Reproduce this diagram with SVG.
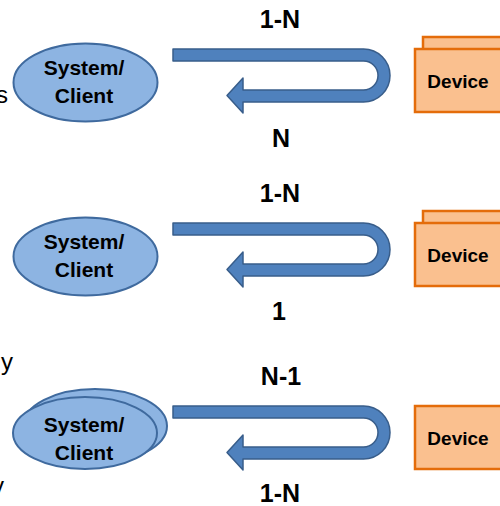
<svg xmlns="http://www.w3.org/2000/svg" width="500" height="506" viewBox="0 0 500 506">
  <style>
    .sys { fill: #8DB4E2; stroke: #3F6A9E; stroke-width: 2; }
    .dev { fill: #FAC08F; stroke: #E46C0A; stroke-width: 2.5; }
    .flow { fill: #4F81BD; stroke: #385D8A; stroke-width: 1.5; stroke-linejoin: round; }
    .nodeText { font-family: "Liberation Sans", Arial, sans-serif; font-weight: bold; fill: #000; text-anchor: middle; }
    .sysText { font-size: 21px; }
    .devText { font-size: 19px; }
    .card { font-family: "Liberation Sans", Arial, sans-serif; font-weight: bold; font-size: 25px; fill: #000; text-anchor: middle; }
    .side { font-family: "Liberation Sans", Arial, sans-serif; font-size: 24px; fill: #000; }
  </style>
  <defs>
    <!-- U-turn arrow: out along the top bar, back along the lower bar -->
    <path id="uturn" d="M173,49 H363.5 A26.5,26.5 0 0 1 363.5,102 H243 V113 L227,95.5 L243,78 V90 H363.5 A14.5,14.5 0 0 0 363.5,61 H173 Z"/>
  </defs>

  <rect width="500" height="506" fill="#FFFFFF"/>

  <!-- side text running off the left edge -->
  <g id="side-text">
    <text class="side" x="-4" y="103">s</text>
    <text class="side" x="1" y="370">y</text>
    <text class="side" x="-8" y="494">y</text>
  </g>

  <!-- connectors -->
  <g id="connectors">
    <use href="#uturn" class="flow"/>
    <use href="#uturn" class="flow" transform="translate(0,174)"/>
    <use href="#uturn" class="flow" transform="translate(0,357)"/>
  </g>

  <!-- cardinality labels -->
  <g id="labels">
    <text class="card" x="280" y="28">1-N</text>
    <text class="card" x="281" y="147">N</text>
    <text class="card" x="280" y="202">1-N</text>
    <text class="card" x="279" y="320">1</text>
    <text class="card" x="281" y="385">N-1</text>
    <text class="card" x="280" y="502">1-N</text>
  </g>

  <!-- row 1 -->
  <g id="client1">
    <ellipse class="sys" cx="85.5" cy="82.5" rx="72" ry="39"/>
    <text class="nodeText sysText" x="84" y="75">System/</text>
    <text class="nodeText sysText" x="84" y="103">Client</text>
  </g>
  <g id="device1">
    <rect class="dev" x="423" y="37" width="90" height="60"/>
    <rect class="dev" x="415" y="49" width="95" height="63"/>
    <text class="nodeText devText" x="458" y="88">Device</text>
  </g>

  <!-- row 2 -->
  <g id="client2">
    <ellipse class="sys" cx="85.5" cy="256.5" rx="72" ry="39"/>
    <text class="nodeText sysText" x="84" y="249">System/</text>
    <text class="nodeText sysText" x="84" y="277">Client</text>
  </g>
  <g id="device2">
    <rect class="dev" x="423" y="211" width="90" height="60"/>
    <rect class="dev" x="415" y="223" width="95" height="63"/>
    <text class="nodeText devText" x="458" y="262">Device</text>
  </g>

  <!-- row 3 -->
  <g id="client3">
    <ellipse class="sys" cx="95" cy="426" rx="72" ry="37"/>
    <ellipse class="sys" cx="85" cy="433" rx="72" ry="36"/>
    <text class="nodeText sysText" x="84" y="432">System/</text>
    <text class="nodeText sysText" x="84" y="460">Client</text>
  </g>
  <g id="device3">
    <rect class="dev" x="415" y="406" width="95" height="63"/>
    <text class="nodeText devText" x="458" y="445">Device</text>
  </g>
</svg>
